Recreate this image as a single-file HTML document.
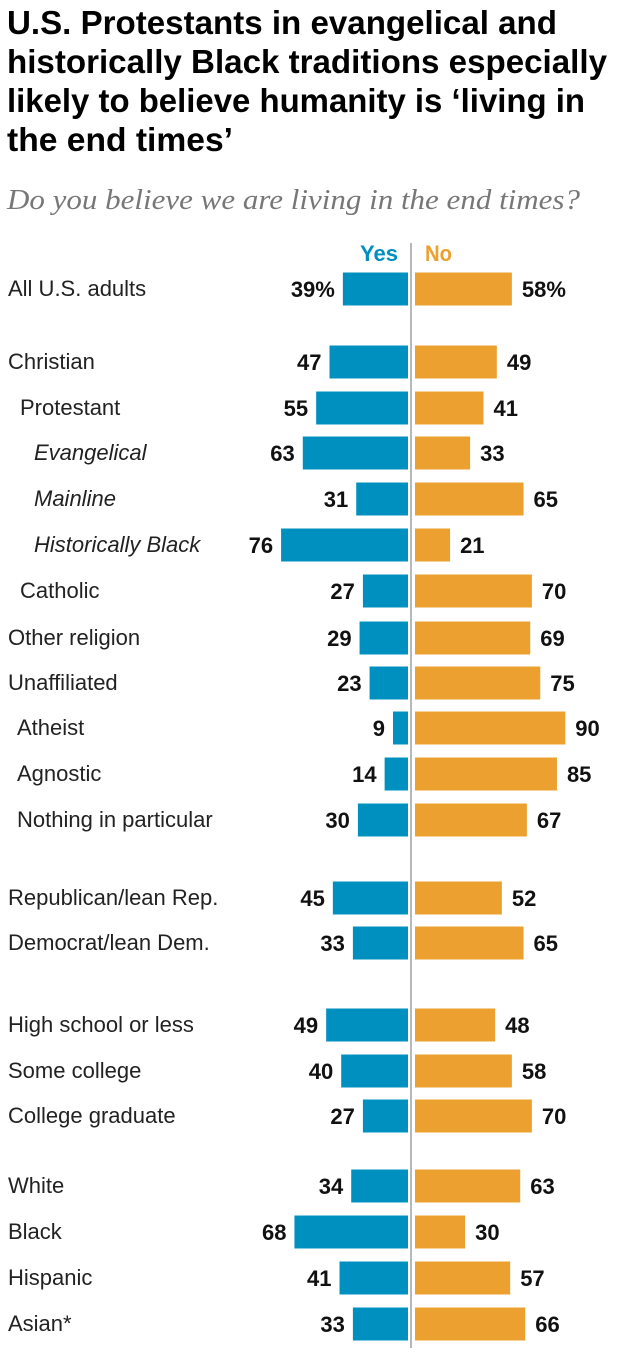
<!DOCTYPE html>
<html><head><meta charset="utf-8"><style>
body{margin:0;background:#fff;width:622px;height:1358px;overflow:hidden}
svg{display:block;font-family:"Liberation Sans",sans-serif}
</style></head><body>
<svg id="chart" width="622" height="1358" viewBox="0 0 622 1358">
<g font-weight="bold" font-size="33" fill="#000">
<text x="7" y="34" textLength="550" lengthAdjust="spacingAndGlyphs">U.S. Protestants in evangelical and</text>
<text x="7" y="73" textLength="600" lengthAdjust="spacingAndGlyphs">historically Black traditions especially</text>
<text x="7" y="112" textLength="578" lengthAdjust="spacingAndGlyphs">likely to believe humanity is ‘living in</text>
<text x="7" y="151" textLength="226" lengthAdjust="spacingAndGlyphs">the end times’</text>
</g>
<text x="7" y="209" font-family="'Liberation Serif',serif" font-style="italic" font-size="28" fill="#777" textLength="573" lengthAdjust="spacingAndGlyphs">Do you believe we are living in the end times?</text>
<text x="398" y="261" text-anchor="end" font-weight="bold" font-size="22" fill="#0090bf" textLength="38" lengthAdjust="spacingAndGlyphs">Yes</text>
<text x="425" y="261" font-weight="bold" font-size="22" fill="#eba02f" textLength="27" lengthAdjust="spacingAndGlyphs">No</text>
<line x1="411" y1="243" x2="411" y2="1348" stroke="#888" stroke-width="1.2"/>
<g id="rows"></g>
</svg>
<script>
const categories=["All U.S. adults","Christian","Protestant","Evangelical","Mainline","Historically Black","Catholic","Other religion","Unaffiliated","Atheist","Agnostic","Nothing in particular","Republican/lean Rep.","Democrat/lean Dem.","High school or less","Some college","College graduate","White","Black","Hispanic","Asian*"];
const yesValues=[39,47,55,63,31,76,27,29,23,9,14,30,45,33,49,40,27,34,68,41,33];
const noValues=[58,49,41,33,65,21,70,69,75,90,85,67,52,65,48,58,70,63,30,57,66];
const indents=[0,0,1,2,2,2,1,0,0,1,1,1,0,0,0,0,0,0,0,0,0];
const italics=[0,0,0,1,1,1,0,0,0,0,0,0,0,0,0,0,0,0,0,0,0];
const rowY=[289,362,408,453,499,545,591,638,683,728,774,820,898,943,1025,1071,1116,1186,1232,1278,1324];
const indentX=[8,20,34];
const atheistX=17;
const ns="http://www.w3.org/2000/svg";
const g=document.getElementById('rows');
const k=1.67;
function xYes(v){return 408-v*k;}
function xNo(v){return 415+v*k;}
function mk(t,a){const e=document.createElementNS(ns,t);for(const n in a)e.setAttribute(n,a[n]);return e;}
categories.forEach((c,i)=>{
  const y=rowY[i];
  let lx=indentX[indents[i]];
  if(i>=9&&i<=11)lx=atheistX;
  const lab=mk('text',{x:lx,y:y+7,'font-size':22,fill:'#222'});
  if(italics[i])lab.setAttribute('font-style','italic');
  lab.textContent=c;
  
  
  g.appendChild(lab);
  const yb=mk('rect',{x:xYes(yesValues[i]),y:y-16.5,width:408-xYes(yesValues[i]),height:33,fill:'#0090bf'});
  
  
  g.appendChild(yb);
  const nb=mk('rect',{x:415,y:y-16.5,width:xNo(noValues[i])-415,height:33,fill:'#eba02f'});
  
  
  g.appendChild(nb);
  const yv=mk('text',{x:xYes(yesValues[i])-8,y:y+8,'text-anchor':'end','font-size':22,'font-weight':'bold',fill:'#111'});
  yv.textContent=yesValues[i]+(i===0?'%':'');
  
  
  g.appendChild(yv);
  const nv=mk('text',{x:xNo(noValues[i])+10,y:y+8,'font-size':22,'font-weight':'bold',fill:'#111'});
  nv.textContent=noValues[i]+(i===0?'%':'');
  
  
  g.appendChild(nv);
});
</script>
</body></html>
